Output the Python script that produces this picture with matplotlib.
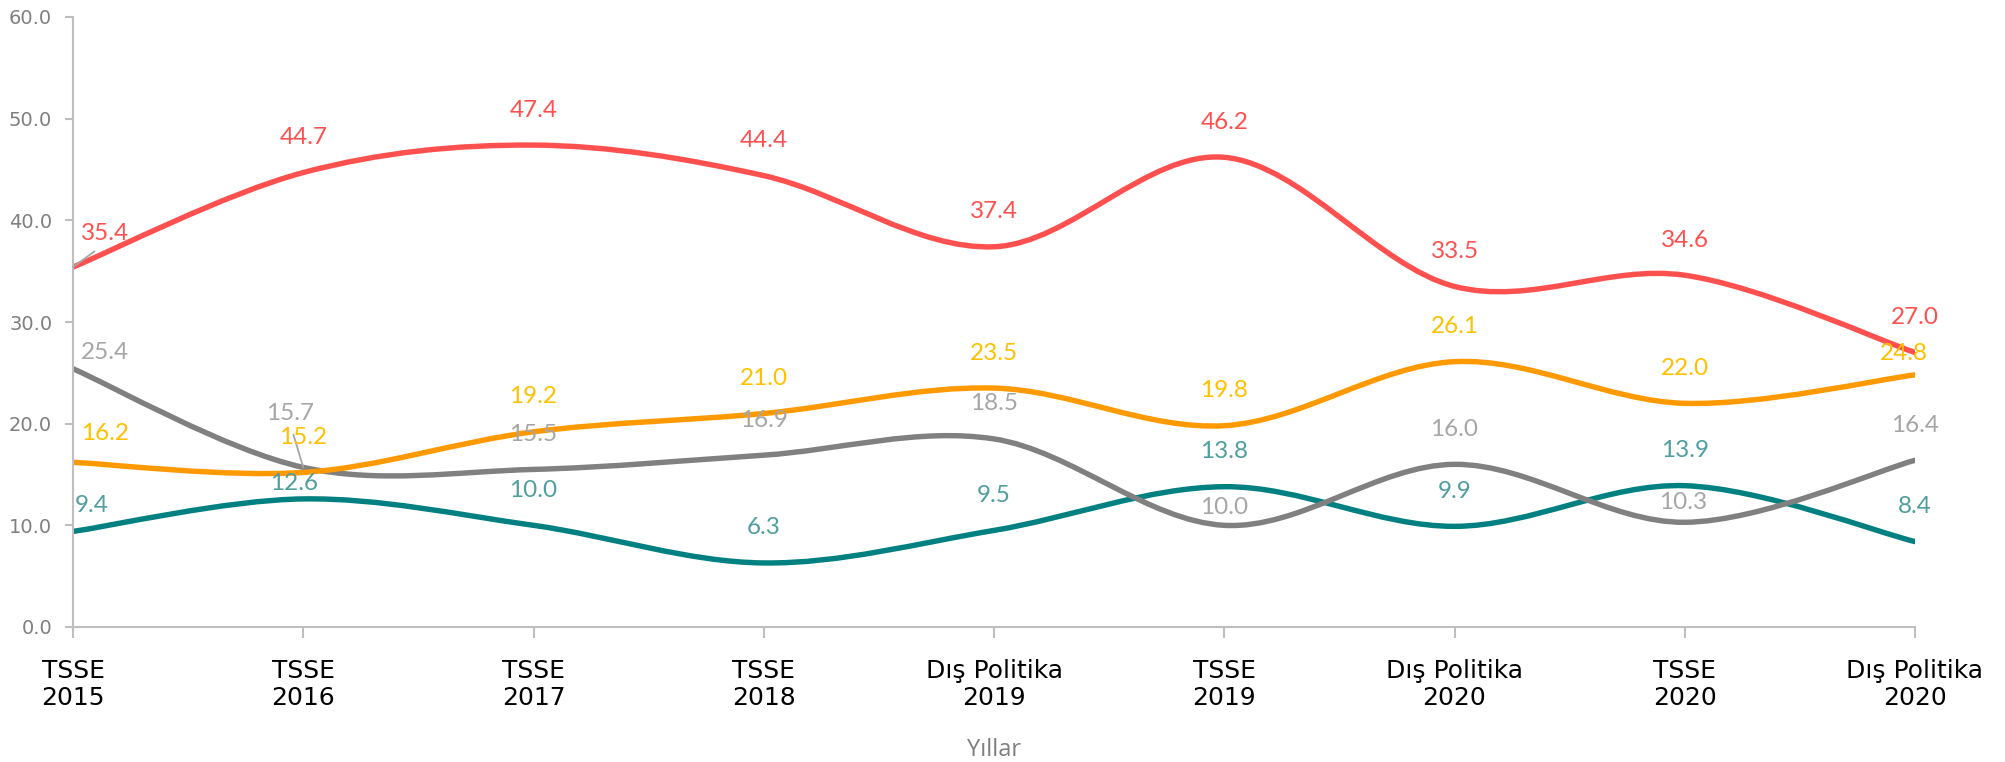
import numpy as np
import matplotlib
matplotlib.use('Agg')
import matplotlib.pyplot as plt
from matplotlib.path import Path
from matplotlib.patches import PathPatch
from matplotlib.ticker import FormatStrFormatter


categories = ['TSSE\n2015', 'TSSE\n2016', 'TSSE\n2017', 'TSSE\n2018', 'Dış Politika\n2019',
              'TSSE\n2019', 'Dış Politika\n2020', 'TSSE\n2020', 'Dış Politika\n2020']
red_values = [35.4, 44.7, 47.4, 44.4, 37.4, 46.2, 33.5, 34.6, 27.0]
orange_values = [16.2, 15.2, 19.2, 21.0, 23.5, 19.8, 26.1, 22.0, 24.8]
gray_values = [25.4, 15.7, 15.5, 16.9, 18.5, 10.0, 16.0, 10.3, 16.4]
teal_values = [9.4, 12.6, 10.0, 6.3, 9.5, 13.8, 9.9, 13.9, 8.4]
y_ticks = [0, 10, 20, 30, 40, 50, 60]

# (series, line colour, label colour)
series = [
    (teal_values, '#008080', '#509E9F'),
    (gray_values, '#808080', '#A6A6A6'),
    (orange_values, '#FF9900', '#FFC000'),
    (red_values, '#FF5050', '#FF5050'),
]

# label offsets in pixels (dx, dy) where excel moved them, default is straight above
default_offset = (0, 35)
moved = {
    ('#FF5050', 0): (32, 34),
    ('#808080', 0): (32, 16),
    ('#FF9900', 0): (32, 29),
    ('#008080', 0): (19, 26),
    ('#808080', 1): (-13, 54),
    ('#008080', 1): (-9, 15),
    ('#808080', 5): (0, 18),
    ('#808080', 7): (-2, 20),
    ('#FF9900', 8): (-11, 21),
}
leaders = [('#FF5050', 0), ('#808080', 1)]


def smooth_path(xs, ys):
    # excel style smoothed line, cubic bezier through the points
    pts = np.column_stack([xs, ys]).astype(float)
    n = len(pts)
    verts = [pts[0]]
    codes = [Path.MOVETO]
    for i in range(n - 1):
        p0 = pts[max(i - 1, 0)]
        p1 = pts[i]
        p2 = pts[i + 1]
        p3 = pts[min(i + 2, n - 1)]
        verts += [p1 + (p2 - p0) / 6.0, p2 - (p3 - p1) / 6.0, p2]
        codes += [Path.CURVE4] * 3
    return Path(verts, codes)


fig = plt.figure(figsize=(20.05, 7.62), dpi=100)
ax = fig.add_axes([73 / 2005, 1 - 627 / 762, (1915 - 73) / 2005, (627 - 17) / 762])

x = np.arange(len(categories))
for values, line_color, label_color in series:
    patch = PathPatch(smooth_path(x, values), fill=False, edgecolor=line_color,
                      lw=3.9, capstyle='round', joinstyle='round', zorder=2)
    ax.add_patch(patch)

for values, line_color, label_color in series:
    for i, v in enumerate(values):
        dx, dy = moved.get((line_color, i), default_offset)
        kw = {}
        if (line_color, i) in leaders:
            kw['arrowprops'] = dict(arrowstyle='-', color='#A6A6A6', lw=1.3,
                                    relpos=(0.5, 0.0), shrinkA=6, shrinkB=0)
        ax.annotate('%.1f' % v, xy=(i, v), xytext=(dx, dy), textcoords='offset pixels',
                    ha='center', va='center', color=label_color, fontsize=17.5,
                    family='Lato', zorder=5, **kw)

ax.set_xlim(0, len(categories) - 1)
ax.set_ylim(0, 60)
ax.set_xticks(x)
ax.set_xticklabels(categories, linespacing=1.15)
ax.set_yticks(y_ticks)
ax.yaxis.set_major_formatter(FormatStrFormatter('%.1f'))

for side in ['top', 'right']:
    ax.spines[side].set_visible(False)
for side in ['left', 'bottom']:
    ax.spines[side].set_color('#BFBFBF')
    ax.spines[side].set_linewidth(1.5)

ax.tick_params(axis='y', length=6, width=1.5, color='#BFBFBF', labelcolor='#7F7F7F',
               labelsize=14, pad=9)
ax.tick_params(axis='x', length=8, width=1.5, color='#BFBFBF', labelcolor='black',
               labelsize=18, pad=15)
for lab in ax.get_xticklabels():
    lab.set_family('DejaVu Sans')

ax.set_xlabel('Yıllar', color='#7F7F7F', fontsize=17, family='Open Sans', labelpad=20)

fig.savefig('out.png', dpi=100)
